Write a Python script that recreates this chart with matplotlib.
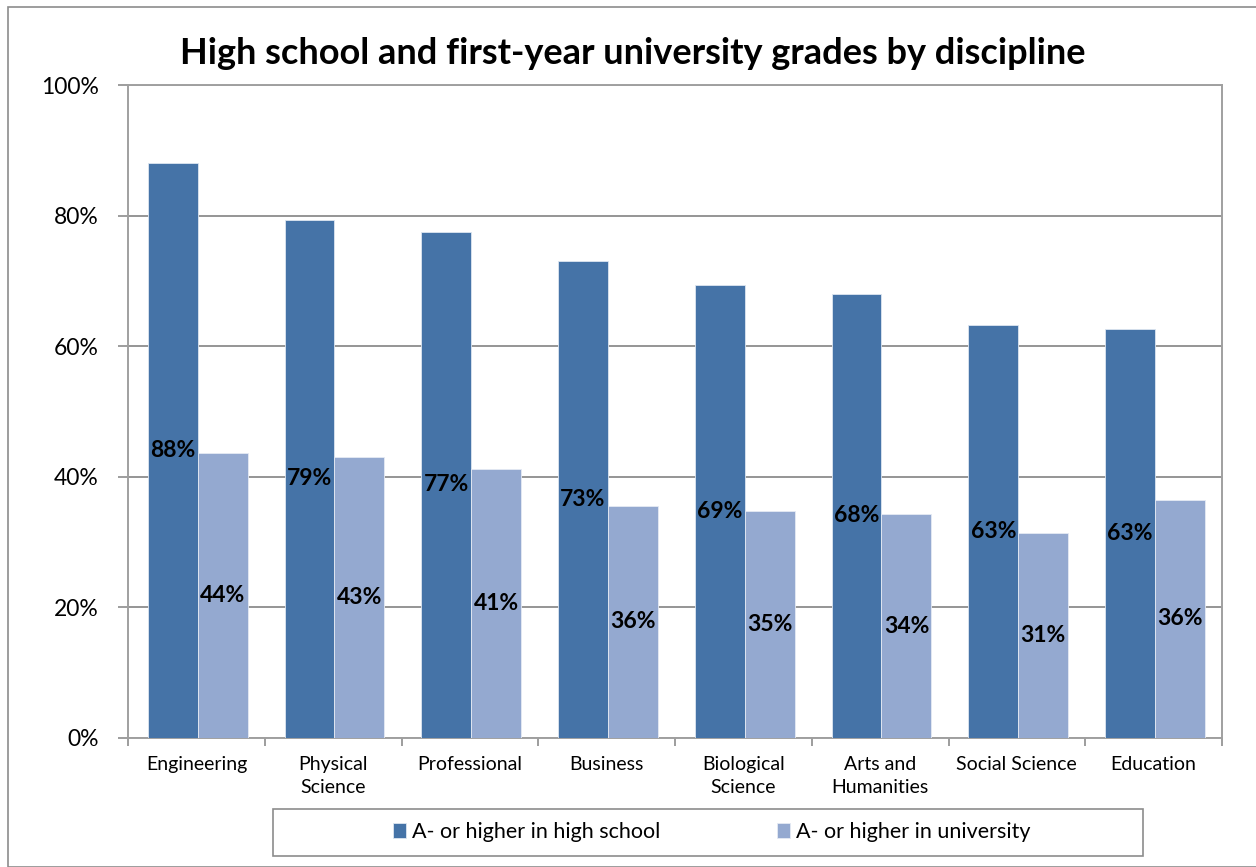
import matplotlib
matplotlib.use("Agg")
import matplotlib.pyplot as plt
from matplotlib.patches import Rectangle
import numpy as np

categories = ["Engineering", "Physical\nScience", "Professional", "Business",
              "Biological\nScience", "Arts and\nHumanities", "Social Science", "Education"]
high_school = [88.1, 79.4, 77.5, 73.0, 69.4, 68.0, 63.3, 62.7]
university = [43.7, 43.0, 41.2, 35.6, 34.8, 34.3, 31.4, 36.5]
hs_labels = ["88%", "79%", "77%", "73%", "69%", "68%", "63%", "63%"]
uni_labels = ["44%", "43%", "41%", "36%", "35%", "34%", "31%", "36%"]
y_ticks = [0, 20, 40, 60, 80, 100]
y_ticklabels = ["0%", "20%", "40%", "60%", "80%", "100%"]
series_names = ["A- or higher in high school", "A- or higher in university"]

c_hs = "#4573A7"
c_uni = "#94A9D0"
grid_c = "#8C8C8C"
FONT = "Lato"

W, H = 1256, 867
fig = plt.figure(figsize=(W / 100, H / 100), dpi=100)
fig.patch.set_facecolor("white")

# outer chart border
fig.add_artist(Rectangle((8 / W, 0), 1.2, 1 - 7 / H, transform=fig.transFigure,
                         fill=False, edgecolor="#8C8C8C", linewidth=1.2))

ax = fig.add_axes([128 / W, 1 - 738 / H, (1222 - 128) / W, (738 - 85) / H])
x = np.arange(len(categories))
bw = 0.365
off = 0.01
b1 = ax.bar(x - bw / 2 + off, high_school, bw, color=c_hs, edgecolor="#DDE6F0", linewidth=0.6,
            label=series_names[0], zorder=3)
b2 = ax.bar(x + bw / 2 + off, university, bw, color=c_uni, edgecolor="#E5EAF3", linewidth=0.6,
            label=series_names[1], zorder=3)

for xi, v, t in zip(x, high_school, hs_labels):
    ax.text(xi - bw / 2 + off, v / 2, t, ha="center", va="center", fontsize=16.5,
            fontweight="bold", family=FONT, zorder=5)
for xi, v, t in zip(x, university, uni_labels):
    ax.text(xi + bw / 2 + off, v / 2, t, ha="center", va="center", fontsize=16.5,
            fontweight="bold", family=FONT, zorder=5)

ax.set_xlim(-0.5, len(categories) - 0.5)
ax.set_ylim(0, 100)
ax.set_yticks(y_ticks)
ax.set_yticklabels(y_ticklabels, family=FONT, fontsize=16.5)
ax.yaxis.grid(True, color=grid_c, linewidth=1.3, zorder=0)
ax.set_axisbelow(True)

ax.set_xticks(np.arange(len(categories) + 1) - 0.5, minor=False)
ax.set_xticklabels([])
ax.set_xticks(x, minor=True)
ax.set_xticklabels(categories, minor=True, family=FONT, fontsize=14, linespacing=1.45, va="top")
ax.tick_params(axis="x", which="minor", length=0, pad=13)
ax.tick_params(axis="x", which="major", length=6, color=grid_c, width=1.2, direction="out")
ax.tick_params(axis="y", length=7, color=grid_c, width=1.2, direction="out", pad=14)

for s in ["left", "bottom", "top", "right"]:
    ax.spines[s].set_color("#A0A0A0")
    ax.spines[s].set_linewidth(1.4)

fig.text(633 / W, 1 - 53 / H, "High school and first-year university grades by discipline",
         ha="center", va="center", fontsize=26, fontweight="bold", family=FONT)

# legend box
fig.add_artist(Rectangle((273 / W, 1 - 856 / H), (1143 - 273) / W, (856 - 809) / H,
                         transform=fig.transFigure, fill=False, edgecolor="#8C8C8C", linewidth=1.2))
leg = fig.legend(handles=[b1, b2], labels=series_names, loc="center",
                 bbox_to_anchor=(712 / W, 1 - 832 / H), ncol=2, frameon=False,
                 prop={"family": FONT, "size": 15.5}, handlelength=0.6, handleheight=0.75,
                 handletextpad=0.3, columnspacing=5.4, borderpad=0.3)

fig.savefig("out.png", dpi=100, facecolor="white")
